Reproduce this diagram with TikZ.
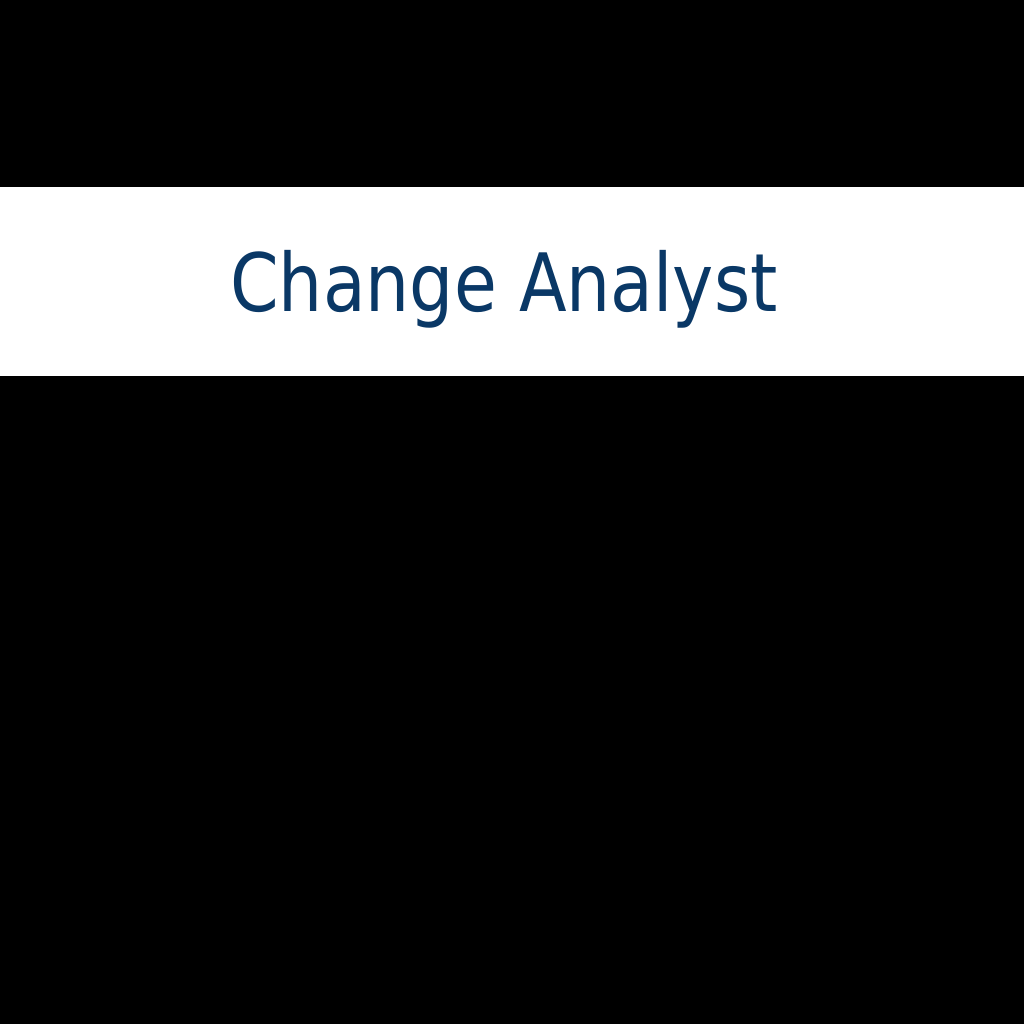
\documentclass[tikz,border=0pt]{standalone}
\usepackage{fontspec}
\usepackage{graphicx}
\setmainfont{DejaVu Sans}
\definecolor{titleblue}{RGB}{10,56,102}
\begin{document}
\begin{tikzpicture}[x=1cm,y=1cm,
  titletext/.style={text=titleblue, font=\fontsize{22.9}{27}\selectfont, inner sep=0pt, anchor=base}]
\useasboundingbox (0,0) rectangle (10.24,10.24);
\fill[black] (0,0) rectangle (10.24,10.24);
\fill[white] (0,10.24-3.76) rectangle (10.24,10.24-1.87);
\node[titletext] (title) at (5.04,10.24-3.12) {\scalebox{0.865}[1]{Change Analyst}};
\end{tikzpicture}
\end{document}
